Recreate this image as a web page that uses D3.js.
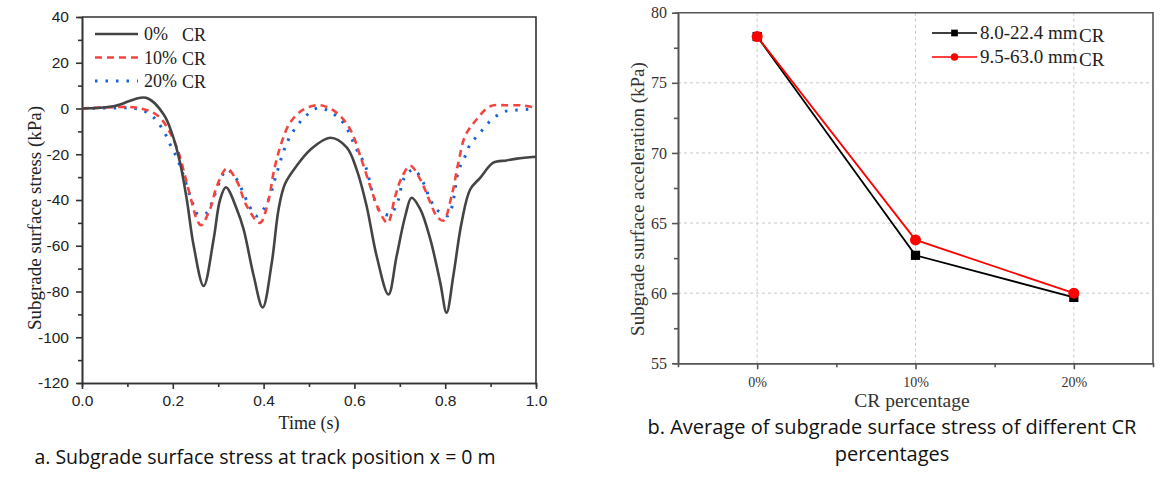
<!DOCTYPE html>
<html>
<head>
<meta charset="utf-8">
<script src="https://cdn.jsdelivr.net/npm/d3@7"></script>
<style>
  body { margin: 0; background: #fff; }
  svg { display: block; }
</style>
</head>
<body>
<script>
'use strict';

// ---- data: panel a (time s, stress kPa)
const stress0 = [[0,0],[0.07,1],[0.141,4.7],[0.18,-2.6],[0.20,-12],[0.216,-23.7],[0.231,-40],[0.246,-60],
  [0.268,-77.6],[0.29,-57],[0.304,-40],[0.317,-34.4],[0.341,-44],[0.356,-52.8],[0.378,-73],[0.398,-87],
  [0.418,-67.4],[0.433,-44],[0.447,-33],[0.473,-25],[0.503,-18],[0.547,-12.8],[0.583,-17],[0.605,-26.7],
  [0.627,-42.7],[0.649,-64.5],[0.675,-81.3],[0.693,-64.5],[0.712,-47],[0.726,-39],[0.745,-44],[0.767,-57],
  [0.789,-76],[0.803,-89.3],[0.818,-73],[0.836,-50],[0.855,-35.4],[0.877,-30.3],[0.906,-23.7],[0.935,-22.7],
  [0.958,-21.9],[1.0,-21.1]]
const stress10 = [[0,0],[0.099,0.7],[0.121,0.3],[0.15,-1.2],[0.172,-4],[0.194,-10.6],[0.213,-19.4],[0.227,-29.6],
  [0.242,-41],[0.253,-48.5],[0.262,-51],[0.282,-44],[0.297,-34],[0.319,-26.2],[0.341,-31.7],[0.363,-42.7],
  [0.392,-50],[0.411,-39.8],[0.422,-28],[0.437,-16.5],[0.458,-6.3],[0.488,-0.4],[0.525,1.4],[0.561,-1.9],
  [0.591,-9.2],[0.613,-20.8],[0.635,-34],[0.653,-44],[0.673,-50],[0.690,-38.3],[0.704,-30.3],[0.723,-25],
  [0.745,-31],[0.767,-41],[0.781,-47],[0.796,-49],[0.814,-38.3],[0.829,-23.7],[0.844,-12],[0.869,-4.8],
  [0.899,1],[0.935,1.4],[0.972,1.3],[1.0,0.3]]
const stress20 = [[0,0],[0.092,0.3],[0.106,0.3],[0.132,-0.7],[0.158,-4],[0.18,-9.9],[0.194,-15.7],[0.209,-21.5],
  [0.224,-29.6],[0.242,-40.5],[0.256,-46.3],[0.275,-45.6],[0.29,-39],[0.304,-31.7],[0.319,-26.7],[0.337,-29.9],
  [0.352,-35.4],[0.367,-42],[0.384,-47],[0.4,-44],[0.414,-38.3],[0.425,-31],[0.444,-18.7],[0.455,-13.5],
  [0.473,-7.7],[0.495,-2.9],[0.521,0.3],[0.55,-1.9],[0.576,-6.3],[0.605,-18],[0.624,-25],[0.642,-38.3],
  [0.655,-44.5],[0.678,-46.5],[0.697,-39.8],[0.708,-31],[0.73,-26.7],[0.752,-32.5],[0.767,-39.8],[0.785,-44.9],
  [0.807,-46.8],[0.818,-39.8],[0.829,-27.4],[0.844,-20.8],[0.855,-15.7],[0.877,-10.6],[0.899,-5.5],[0.928,-1.5],
  [0.958,-0.7],[1.0,-0.1]]
const stressLabels = ['0%', '10%', '20%']

// ---- data: panel b
const crCategories = ['0%', '10%', '20%']
const avgFine = [78.3, 62.7, 59.7]     // 8.0-22.4 mm
const avgCoarse = [78.3, 63.8, 60.0]   // 9.5-63.0 mm
const sizeLabels = ['8.0-22.4 mm', '9.5-63.0 mm']

const SERIF = '"Liberation Serif", "Times New Roman", serif'
const SANS = '"Liberation Sans", Arial, sans-serif'
const CAPTION = '"Open Sans", "Noto Sans", sans-serif'

const svg = d3.select('body').append('svg')
  .attr('width', 1169).attr('height', 478)

// ================= panel a =================
const xa = d3.scaleLinear().domain([0, 1]).range([82, 536])
const ya = d3.scaleLinear().domain([-120, 40]).range([383, 17])
const AXA = '#333'

const ga = svg.append('g')

// minor ticks
ga.append('g').attr('transform', 'translate(0,383)')
  .call(d3.axisBottom(xa).tickValues(d3.range(0.1, 1, 0.2)).tickSize(4).tickFormat(''))
ga.append('g').attr('transform', 'translate(82,0)')
  .call(d3.axisLeft(ya).tickValues(d3.range(-110, 40, 20)).tickSize(4).tickFormat(''))

ga.append('g').attr('transform', 'translate(0,383)')
  .call(d3.axisBottom(xa).ticks(5).tickSize(6).tickSizeOuter(0).tickPadding(6).tickFormat(d3.format('.1f')))
ga.append('g').attr('transform', 'translate(82,0)')
  .call(d3.axisLeft(ya).tickValues(d3.range(-120, 41, 20)).tickSize(6).tickSizeOuter(0).tickPadding(7)
    .tickFormat(d => String(d)))

ga.selectAll('.domain, .tick line').attr('stroke', AXA).attr('stroke-width', 1.6)
ga.selectAll('.tick text').attr('font-family', SANS).attr('font-size', 15.5).attr('fill', '#222')

// frame top/right
ga.append('path')
  .attr('d', `M82,17H536V383`)
  .attr('fill', 'none').attr('stroke', AXA).attr('stroke-width', 1.6)

const lineA = d3.line().x(d => xa(d[0])).y(d => ya(d[1])).curve(d3.curveCatmullRom.alpha(0.5))

const stressSeries = [
  { data: stress0, color: '#444', width: 2.6, dash: null },
  { data: stress10, color: '#f2453f', width: 2.6, dash: '7,5' },
  { data: stress20, color: '#1763d6', width: 3, dash: '2.5,8' }
]

ga.selectAll('.series')
  .data(stressSeries.slice().reverse())
  .join('path')
  .attr('d', d => lineA(d.data))
  .attr('fill', 'none')
  .attr('stroke', d => d.color)
  .attr('stroke-width', d => d.width)
  .attr('stroke-dasharray', d => d.dash)

// legend
const legA = ga.selectAll('.leg').data(stressSeries).join('g')
  .attr('transform', (d, i) => `translate(95,${34 + i * 23.5})`)
legA.append('line')
  .attr('x1', 0).attr('x2', 43)
  .attr('stroke', d => d.color).attr('stroke-width', d => d.width)
  .attr('stroke-dasharray', d => d.dash)
legA.append('text').attr('x', 49).attr('y', 6)
  .attr('font-family', SERIF).attr('font-size', 18).attr('fill', '#222')
  .text((d, i) => stressLabels[i])
legA.append('text').attr('x', 87).attr('y', 7)
  .attr('font-family', SERIF).attr('font-size', 18).attr('fill', '#222')
  .text('CR')

ga.append('text')
  .attr('transform', 'translate(41,218) rotate(-90)')
  .attr('text-anchor', 'middle')
  .attr('font-family', SERIF).attr('font-size', 19).attr('fill', '#222')
  .text('Subgrade surface stress (kPa)')
ga.append('text')
  .attr('x', 309).attr('y', 429).attr('text-anchor', 'middle')
  .attr('font-family', SERIF).attr('font-size', 18).attr('fill', '#222')
  .text('Time (s)')

ga.append('text')
  .attr('x', 265).attr('y', 464).attr('text-anchor', 'middle')
  .attr('font-family', CAPTION).attr('font-size', 19.5).attr('fill', '#111')
  .text('a. Subgrade surface stress at track position x = 0 m')

// ================= panel b =================
const xb = d3.scaleLinear().domain([-0.5, 2.5]).range([678, 1153])
const yb = d3.scaleLinear().domain([55, 80]).range([363.3, 12.7])
const AXB = '#555'
const gb = svg.append('g')

// grid
gb.append('g').selectAll('line').data([60, 65, 70, 75]).join('line')
  .attr('x1', 678).attr('x2', 1153).attr('y1', d => yb(d)).attr('y2', d => yb(d))
  .attr('stroke', '#c8c8c8').attr('stroke-dasharray', '3,3').attr('stroke-width', 1)
gb.append('g').selectAll('line').data(d3.range(crCategories.length)).join('line')
  .attr('x1', d => xb(d)).attr('x2', d => xb(d)).attr('y1', 12.7).attr('y2', 363.3)
  .attr('stroke', '#c8c8c8').attr('stroke-dasharray', '3,3').attr('stroke-width', 1)

gb.append('g').attr('transform', 'translate(0,363.3)')
  .call(d3.axisBottom(xb).tickValues([0.5, 1.5]).tickSize(4).tickFormat(''))
gb.append('g').attr('transform', 'translate(678,0)')
  .call(d3.axisLeft(yb).tickValues([57.5, 62.5, 67.5, 72.5, 77.5]).tickSize(4).tickFormat(''))
const xAxisB = gb.append('g').attr('transform', 'translate(0,363.3)')
  .call(d3.axisBottom(xb).tickValues(d3.range(crCategories.length)).tickSize(6).tickSizeOuter(0)
    .tickPadding(8).tickFormat(i => crCategories[i]))
gb.append('g').attr('transform', 'translate(678,0)')
  .call(d3.axisLeft(yb).tickValues(d3.range(55, 81, 5)).tickSize(6).tickSizeOuter(0).tickPadding(5))

gb.selectAll('.domain, .tick line').attr('stroke', AXB).attr('stroke-width', 1.6)
gb.selectAll('.tick text').attr('font-family', SERIF).attr('font-size', 16).attr('fill', '#333')
xAxisB.selectAll('.tick text').attr('font-size', 14)

gb.append('path')
  .attr('d', `M678,12.7H1153V363.3`)
  .attr('fill', 'none').attr('stroke', AXB).attr('stroke-width', 1.6)

const avgSeries = [
  { data: avgFine, color: '#000', marker: 'square' },
  { data: avgCoarse, color: '#f00', marker: 'circle' }
]
const lineB = d3.line().x((d, i) => xb(i)).y(d => yb(d))

avgSeries.forEach(s => {
  gb.append('path').attr('d', lineB(s.data))
    .attr('fill', 'none').attr('stroke', s.color).attr('stroke-width', 1.8)
})
avgSeries.forEach(s => {
  const sym = d3.symbol().type(s.marker === 'square' ? d3.symbolSquare : d3.symbolCircle)
    .size(s.marker === 'square' ? 85 : 95)
  gb.append('g').selectAll('path').data(s.data).join('path')
    .attr('transform', (d, i) => `translate(${xb(i)},${yb(d)})`)
    .attr('d', sym).attr('fill', s.color)
})

// legend
const legB = gb.selectAll('.legb').data(avgSeries).join('g')
  .attr('transform', (d, i) => `translate(932,${33 + i * 24})`)
legB.append('line').attr('x1', 0).attr('x2', 45)
  .attr('stroke', d => d.color).attr('stroke-width', 1.6)
legB.append('path')
  .attr('transform', 'translate(22.5,0)')
  .attr('d', d => d3.symbol().type(d.marker === 'square' ? d3.symbolSquare : d3.symbolCircle).size(45)())
  .attr('fill', d => d.color)
legB.append('text').attr('x', 48).attr('y', 6)
  .attr('font-family', SERIF).attr('font-size', 19).attr('fill', '#222')
  .text((d, i) => sizeLabels[i])
legB.append('text').attr('x', 147).attr('y', 9)
  .attr('font-family', SERIF).attr('font-size', 19).attr('fill', '#222')
  .text('CR')

gb.append('text')
  .attr('transform', 'translate(644,199) rotate(-90)')
  .attr('text-anchor', 'middle')
  .attr('font-family', SERIF).attr('font-size', 19).attr('fill', '#333')
  .text('Subgrade surface acceleration (kPa)')
gb.append('text')
  .attr('x', 912).attr('y', 407).attr('text-anchor', 'middle')
  .attr('font-family', SERIF).attr('font-size', 19.5).attr('fill', '#333')
  .text('CR percentage')

const capB = gb.append('text')
  .attr('text-anchor', 'middle')
  .attr('font-family', CAPTION).attr('font-size', 20).attr('fill', '#111')
capB.append('tspan').attr('x', 892).attr('y', 434)
  .text('b. Average of subgrade surface stress of different CR')
capB.append('tspan').attr('x', 892).attr('y', 461)
  .text('percentages')
</script>
</body>
</html>
